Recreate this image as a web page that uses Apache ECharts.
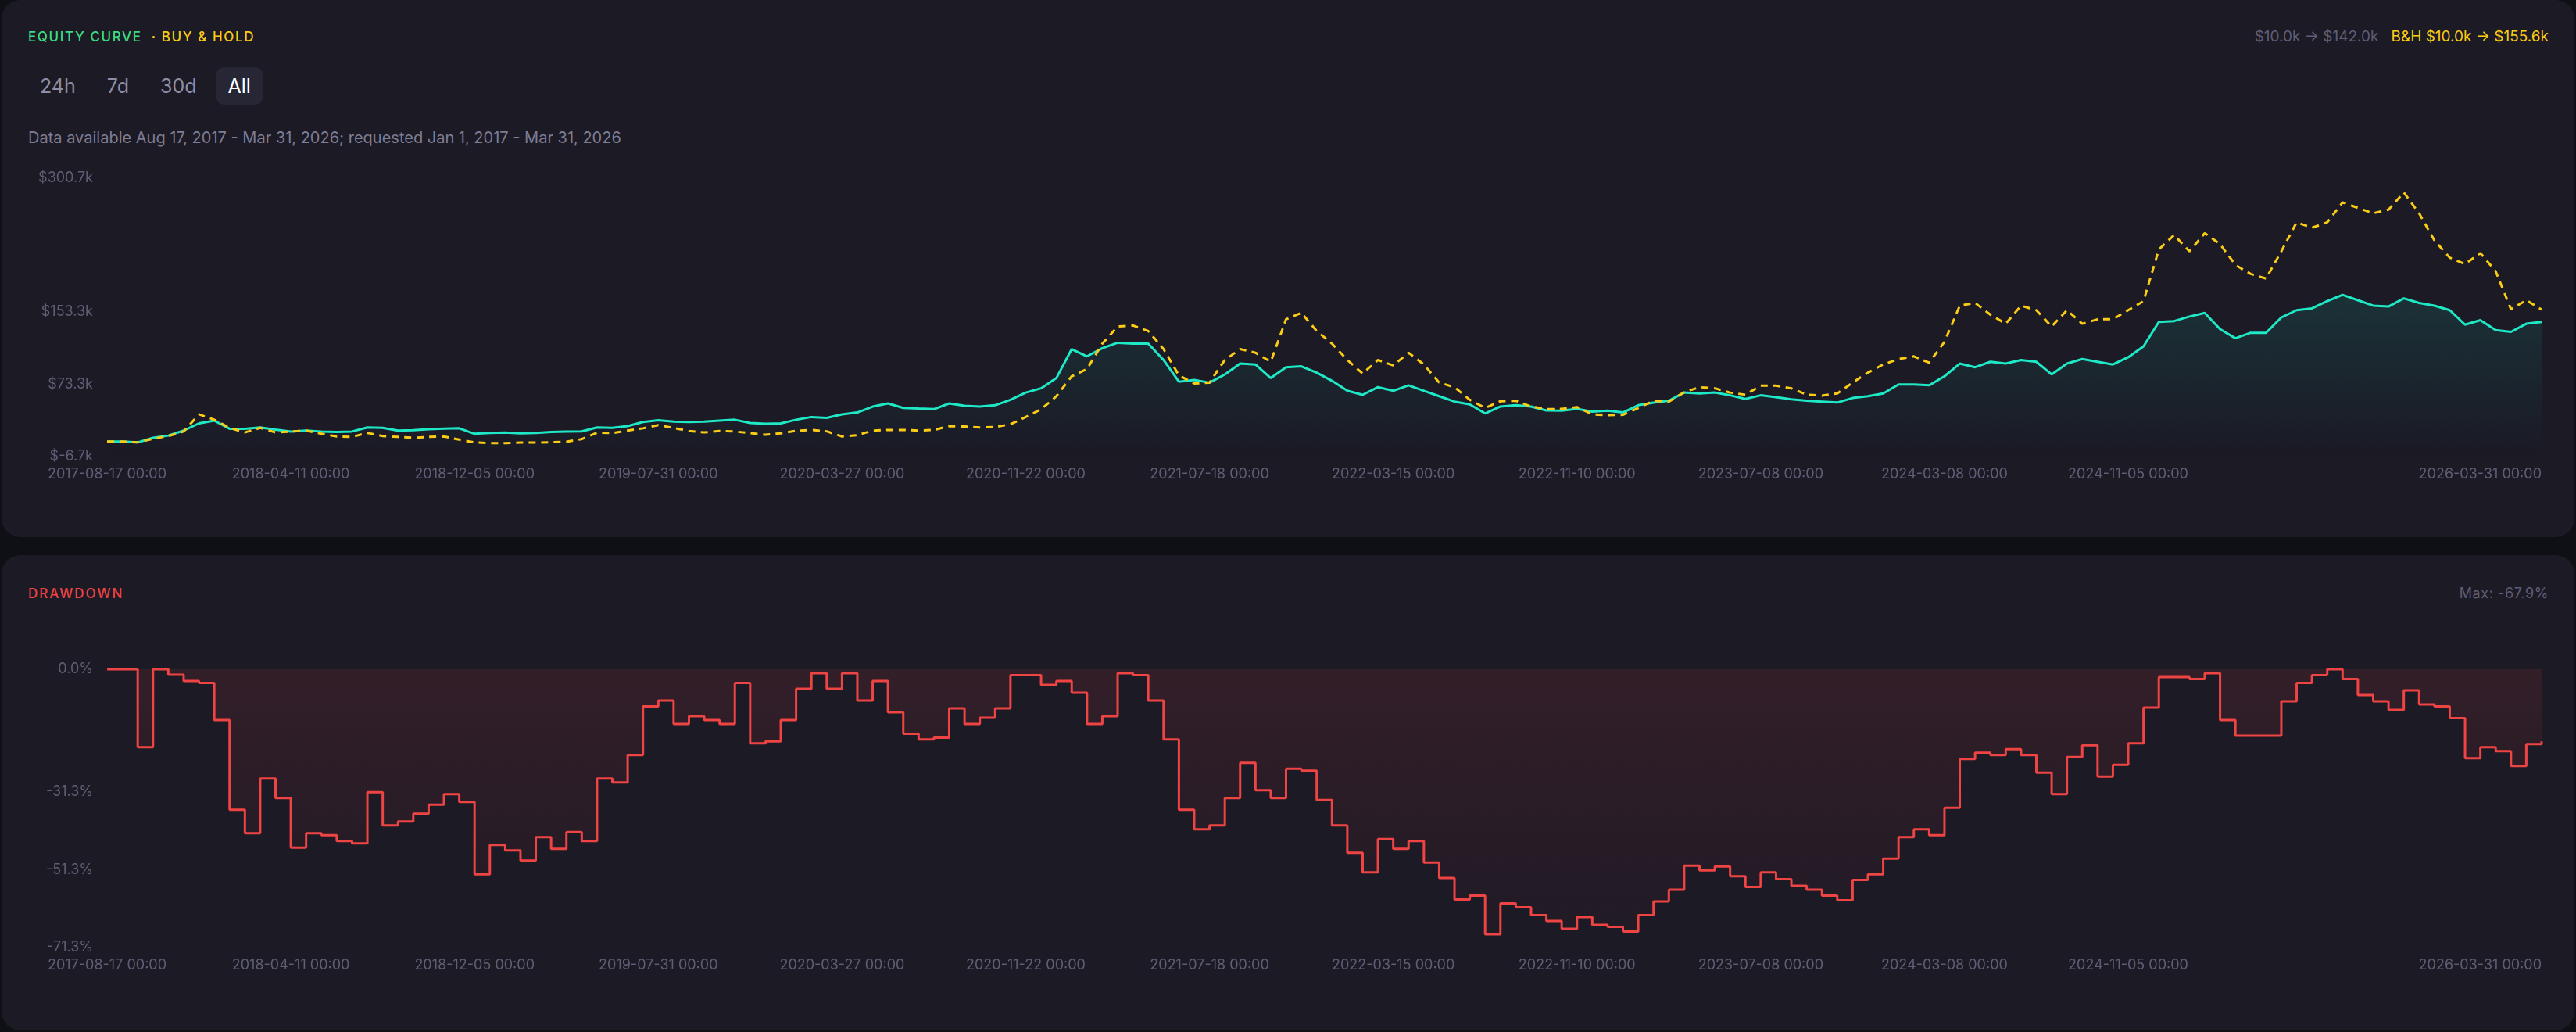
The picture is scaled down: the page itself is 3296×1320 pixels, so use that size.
<!DOCTYPE html>
<html>
<head>
<meta charset="utf-8">
<title>Equity curve</title>
<script src="https://cdn.jsdelivr.net/npm/echarts@6.0.0/dist/echarts.min.js"></script>
<style>
  html, body { margin:0; padding:0; width:3296px; height:1320px; overflow:hidden; background:#0f0f16;
    font-family: Inter, "Noto Sans", sans-serif; }
  .card { position:absolute; left:2px; width:3292px; background:#1b1a25; border-radius:24px; }
  #card1 { top:0; height:687px; }
  #card2 { top:710px; height:608px; }
  .title { position:absolute; left:34px; font-size:17px; line-height:20px; font-weight:500; letter-spacing:1.6px; }
  .right { position:absolute; right:33px; font-size:19px; line-height:22px; }
  .btns { position:absolute; left:34px; top:86px; height:48px; display:flex; gap:10px; }
  .btn { height:48px; line-height:48px; padding:0 15px; border-radius:9px; font-size:25px; color:#8e8da3; }
  .btn.on { background:#272635; color:#ffffff; }
  .note { position:absolute; left:34px; top:164px; font-size:20px; line-height:24px; color:#7e7d94; }
  .chart { position:absolute; left:34px; width:3225px; height:430px; }
</style>
</head>
<body>
<div class="card" id="card1">
  <div class="title" style="top:37px"><span style="color:#3ddc84">EQUITY CURVE</span><span style="color:#facc15">&nbsp;&nbsp;· BUY &amp; HOLD</span></div>
  <div class="right" style="top:36px"><span id="stratTxt" style="color:#5f5e75"></span><span id="bhTxt" style="color:#facc15;margin-left:16px"></span></div>
  <div class="btns"><div class="btn">24h</div><div class="btn">7d</div><div class="btn">30d</div><div class="btn on">All</div></div>
  <div class="note">Data available Aug 17, 2017 - Mar 31, 2026; requested Jan 1, 2017 - Mar 31, 2026</div>
  <div class="chart" id="eq" style="top:200px"></div>
</div>
<div class="card" id="card2">
  <div class="title" style="top:39px;color:#ef4444;letter-spacing:2px">DRAWDOWN</div>
  <div class="right" id="maxTxt" style="top:38px;font-size:18px;color:#5f5e75;letter-spacing:0.6px"></div>
  <div class="chart" id="dd" style="top:120px"></div>
</div>
<script>
// dates that carry an x label, and how many samples sit between them
var labelDates = ['2017-08-17','2018-04-11','2018-12-05','2019-07-31','2020-03-27','2020-11-22',
  '2021-07-18','2022-03-15','2022-11-10','2023-07-08','2024-03-08','2024-11-05','2026-03-31'];
var stepsPerGap = [12,12,12,12,12,12,12,12,12,12,12,27];

// equity in $k
var strategy = [
  10, 10, 9, 14, 16.5, 22, 30, 33, 24, 24,
  25.5, 23, 21, 22, 21, 20.5, 21, 25.5, 25, 22,
  22.5, 23.5, 24.2, 24.5, 18.5, 19.5, 19.8, 19, 19.5, 20.4,
  21, 21.2, 25.5, 25, 27, 31.5, 33.5, 32, 31.5, 31.9,
  33, 34, 30.5, 29.5, 30, 34, 37, 36, 40, 42,
  48.5, 52, 47, 46.3, 45.7, 52, 49.5, 48.6, 50, 56,
  64, 68.7, 80, 112, 104, 113, 119, 118, 118, 100,
  76, 78, 75, 84, 96, 95, 80, 92, 93, 86,
  77, 66, 61.5, 70, 66, 72, 66, 60, 54, 51,
  41, 48.6, 50, 48.6, 44.3, 44, 46, 43, 44, 42,
  50, 52.9, 55, 64, 63, 64, 61, 57, 61, 59,
  56.5, 55, 54, 53, 58, 60, 63, 73, 73, 72,
  82, 96, 92, 98, 96, 100, 98, 84, 96, 101,
  98, 95, 103, 115, 142, 143, 148, 152, 134, 124,
  130, 130, 147, 155, 157, 165, 172, 166, 160, 159,
  168, 163, 160, 155, 139, 144, 133, 131, 140, 142
];
var buyHold = [
  10, 10, 9, 13, 16, 21, 40, 34, 25, 20,
  25, 20, 21, 22, 18.5, 15.5, 15, 19.5, 16, 15,
  14, 15, 15.5, 12, 9, 8.3, 8.3, 8.8, 8.8, 9.2,
  9.7, 12.6, 19.8, 19.2, 22, 24.5, 28, 25, 21.5, 20,
  21.5, 21, 19.2, 17.5, 19, 21.8, 22.7, 21.2, 15.5, 17,
  22, 22.7, 22.7, 22.1, 22.7, 27, 26.5, 25.5, 26, 29,
  37, 45.5, 60, 82, 90, 118, 137, 138, 132, 112,
  83, 74, 75, 100, 112, 108, 98, 145, 152, 132,
  118, 100, 85, 100, 94, 108, 95, 75, 70, 56,
  47, 54.4, 55, 48.6, 45.7, 46, 48, 40, 39, 39.4,
  47, 55, 54, 64.4, 70, 68.7, 64, 61.6, 71.7, 71.7,
  68.7, 61.6, 60.7, 63, 75, 86, 95, 101, 104, 97,
  120, 160, 163, 150, 140, 160, 155, 137, 155, 140,
  145, 145, 155, 165, 222, 238, 220, 240, 228, 205,
  195, 190, 220, 252, 246, 252, 274, 268, 262, 266,
  285, 262, 232, 213, 206, 218, 198, 156, 166, 155.6
];
// drawdown in %
var drawdown = [
  0, 0, -20, 0, -1.4, -3, -3.5, -13, -36, -42,
  -28, -33, -45.7, -42, -42.5, -44, -44.6, -31.5, -40, -39,
  -37, -34.7, -32, -34, -52.5, -45, -46.4, -49, -43, -46,
  -41.7, -44, -28, -29, -22, -9.5, -8, -14, -12, -13,
  -14, -3.5, -19, -18.5, -13, -5, -1, -5, -1, -8,
  -3, -11, -16.5, -18, -17.5, -10, -14, -12.4, -10, -1.5,
  -1.5, -4, -3, -6, -14, -12, -1, -1.5, -8, -18,
  -36, -41, -40, -33, -24, -31, -33, -25.5, -26, -33.5,
  -40, -47, -52, -43.5, -46, -44, -49.5, -53.5, -59, -58,
  -67.9, -60, -61, -63, -64.5, -66.5, -63.5, -65.5, -66, -67.2,
  -63, -59.5, -56.5, -50.3, -51.5, -50.5, -53, -55.8, -52, -53.8,
  -55.5, -56.5, -58, -59.2, -54, -52.5, -48.5, -43, -41, -42.5,
  -35.5, -23, -21.4, -22, -20.5, -22, -26.5, -32, -22.5, -19.5,
  -27.5, -24.5, -19, -9.8, -2, -2, -2.5, -1, -13, -17,
  -17, -17, -8.2, -3.5, -1.5, 0, -2.5, -6.6, -8.2, -10.4,
  -5.4, -9, -9.5, -12.5, -22.8, -20, -21, -24.8, -19.2, -18.5
];

var equityTicks = [-6.7, 73.3, 153.3, 300.7];
var drawdownTicks = [-71.3, -51.3, -31.3, 0];

// build the category dates
var cats = [];
var labelIdx = {};
function fmt(t) {
  var d = new Date(t);
  var m = ('0' + (d.getUTCMonth() + 1)).slice(-2), day = ('0' + d.getUTCDate()).slice(-2);
  return d.getUTCFullYear() + '-' + m + '-' + day + ' 00:00';
}
for (var g = 0; g < stepsPerGap.length; g++) {
  var a = Date.parse(labelDates[g]), b = Date.parse(labelDates[g + 1]);
  labelIdx[cats.length] = true;
  for (var s = 0; s < stepsPerGap[g]; s++) {
    cats.push(fmt(Math.round((a + (b - a) * s / stepsPerGap[g]) / 86400000) * 86400000));
  }
}
labelIdx[cats.length] = true;
cats.push(fmt(Date.parse(labelDates[labelDates.length - 1])));

document.getElementById('stratTxt').textContent = '$' + strategy[0].toFixed(1) + 'k \u2192 $' + strategy[strategy.length - 1].toFixed(1) + 'k';
document.getElementById('bhTxt').textContent = 'B&H $' + buyHold[0].toFixed(1) + 'k \u2192 $' + buyHold[buyHold.length - 1].toFixed(1) + 'k';
document.getElementById('maxTxt').textContent = 'Max: ' + Math.min.apply(null, drawdown).toFixed(1) + '%';

var labelColor = '#5f5e75';

function xAxisOpt() {
  return {
    type: 'category', data: cats, boundaryGap: false,
    axisLine: { show: false }, axisTick: { show: false }, splitLine: { show: false },
    axisLabel: {
      color: labelColor, fontSize: 18, fontFamily: 'Inter', margin: 14,
      interval: function (i) { return !!labelIdx[i]; },
      alignMaxLabel: 'right'
    }
  };
}

var eqChart = echarts.init(document.getElementById('eq'));
eqChart.setOption({
  animation: false,
  grid: { left: 101, right: 9, top: 28, bottom: 46, outerBoundsMode: 'none' },
  xAxis: xAxisOpt(),
  yAxis: {
    type: 'value', min: -6.7, max: 300.7, interval: 80,
    axisLine: { show: false }, axisTick: { show: false }, splitLine: { show: false },
    axisLabel: {
      customValues: equityTicks, color: labelColor, fontSize: 18, fontFamily: 'Inter', margin: 18,
      formatter: function (v) { return '$' + v.toFixed(1) + 'k'; }
    }
  },
  series: [
    {
      name: 'Equity', type: 'line', data: strategy, showSymbol: false,
      lineStyle: { color: '#1fe8c6', width: 3 },
      itemStyle: { color: '#1fe8c6' },
      areaStyle: {
        origin: 'start',
        color: new echarts.graphic.LinearGradient(0, 0, 0, 1, [
          { offset: 0, color: 'rgba(31,232,198,0.17)' },
          { offset: 1, color: 'rgba(31,232,198,0.0)' }
        ])
      }
    },
    {
      name: 'Buy & Hold', type: 'line', data: buyHold, showSymbol: false,
      lineStyle: { color: '#facc15', width: 3, type: [9, 7] },
      itemStyle: { color: '#facc15' }
    }
  ]
});

var ddChart = echarts.init(document.getElementById('dd'));
ddChart.setOption({
  animation: false,
  grid: { left: 101, right: 9, top: 26, bottom: 48, outerBoundsMode: 'none' },
  xAxis: xAxisOpt(),
  yAxis: {
    type: 'value', min: -71.3, max: 0, interval: 20,
    axisLine: { show: false }, axisTick: { show: false }, splitLine: { show: false },
    axisLabel: {
      customValues: drawdownTicks, color: labelColor, fontSize: 18, fontFamily: 'Inter', margin: 18,
      formatter: function (v) { return v.toFixed(1) + '%'; }
    }
  },
  series: [{
    name: 'Drawdown', type: 'line', step: 'end', data: drawdown, showSymbol: false,
    lineStyle: { color: '#ef4444', width: 3 },
    itemStyle: { color: '#ef4444' },
    areaStyle: {
      color: new echarts.graphic.LinearGradient(0, 0, 0, 1, [
        { offset: 0, color: 'rgba(239,68,68,0.16)' },
        { offset: 1, color: 'rgba(239,68,68,0.04)' }
      ])
    }
  }]
});
</script>
</body>
</html>
